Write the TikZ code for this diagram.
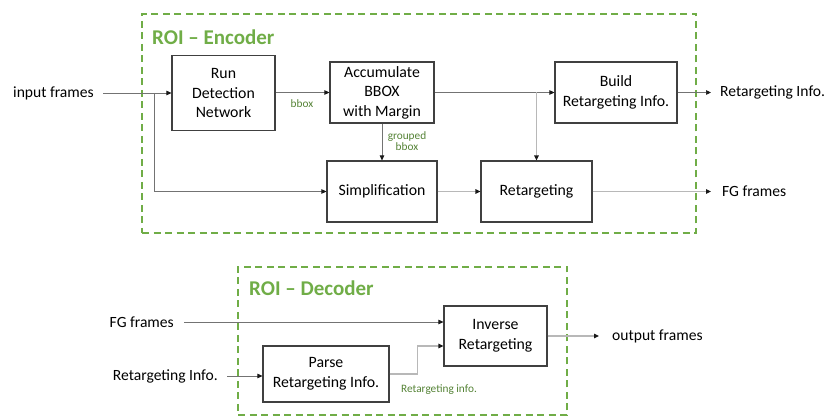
\documentclass[tikz,border=0pt]{standalone}
\usepackage{fontspec}
\setmainfont{Carlito}
\usetikzlibrary{arrows.meta}
\definecolor{grpgreen}{RGB}{112,173,71}
\definecolor{lblgreen}{RGB}{84,130,53}
\definecolor{boxline}{RGB}{64,64,64}
\tikzset{
  blk/.style={draw=boxline, line width=1.1pt, align=center, inner sep=0pt,
    font=\fontsize{15.8}{19.5}\selectfont},
  grp/.style={draw=grpgreen, line width=1.4pt, dash pattern=on 7pt off 4.5pt},
  ttl/.style={text=grpgreen, font=\fontsize{21}{24}\selectfont\bfseries, anchor=west, inner sep=0pt},
  txt/.style={font=\fontsize{15.6}{19.5}\selectfont, inner ysep=0pt},
  lbl/.style={text=lblgreen, font=\fontsize{11.3}{11.5}\selectfont, align=center, inner sep=0pt},
  dk/.style={draw=black!55, line width=0.7pt},
  lt/.style={draw=black!28, line width=1.2pt},
  tip/.style={-{Triangle[length=5pt,width=4.5pt,color=black!90]}},
}
\begin{document}
\begin{tikzpicture}[x=1pt,y=-1pt]
\useasboundingbox (0,0) rectangle (831,419);
% groups
\node[grp, minimum width=554, minimum height=219] (enc) at (419,123.5) {};
\node[grp, minimum width=329, minimum height=148] (dec) at (402.5,341) {};
\node[ttl] (enct) at (152,37) {ROI – Encoder};
\node[ttl] (dect) at (249,288) {ROI – Decoder};
% encoder blocks
\node[blk, minimum width=103, minimum height=75] (run) at (223.5,93) {Run\\Detection\\Network};
\node[blk, minimum width=104, minimum height=61] (acc) at (382,92.5) {Accumulate\\BBOX\\with Margin};
\node[blk, minimum width=122, minimum height=61] (bld) at (616,92.5) {Build\\Retargeting Info.};
\node[blk, minimum width=110, minimum height=61] (simp) at (382,191.5) {Simplification};
\node[blk, minimum width=111, minimum height=61] (ret) at (536.5,191.5) {Retargeting};
% encoder texts
\node[txt, inner xsep=9pt, anchor=east] (inp) at (103,93) {input frames};
\node[txt, inner xsep=9pt, anchor=west] (rio) at (711,92.5) {Retargeting Info.};
\node[txt, inner xsep=11pt, anchor=west] (fgo) at (711,191.5) {FG frames};
\node[lbl] (lbb) at (302,104) {bbox};
\node[lbl] (lgb) at (407,141) {grouped\\bbox};
% encoder connectors
\coordinate (b1) at (154,93);
\draw[dk, tip] (inp.east) -- (run.west);
\draw[dk, tip] (b1) |- (simp.west);
\draw[dk, tip] (run.east |- acc.west) -- (acc.west);
\draw[dk, tip] (acc.east) -- (bld.west);
\draw[lt, tip] (ret.north |- acc.east) -- (ret.north);
\draw[dk, tip] (acc.south) -- (simp.north);
\draw[lt, tip] (simp.east) -- (ret.west);
\draw[lt, tip] (ret.east) -- (fgo.west);
\draw[dk, tip] (bld.east) -- (rio.west);
% decoder blocks
\node[blk, minimum width=103, minimum height=60] (inv) at (495.5,336) {Inverse\\Retargeting};
\node[blk, minimum width=126, minimum height=56] (prs) at (326,374) {Parse\\Retargeting Info.};
% decoder texts
\node[txt, inner xsep=10pt, anchor=east] (fgi) at (184,322) {FG frames};
\node[txt, inner xsep=9pt, anchor=east] (rii) at (227,376) {Retargeting Info.};
\node[txt, inner xsep=13pt, anchor=west] (out) at (599,336) {output frames};
\node[lbl] (lri) at (439,390) {Retargeting info.};
% decoder connectors
\draw[dk, tip] (fgi.east) -- (fgi.east -| inv.west);
\draw[dk, tip] (rii.east) -- (rii.east -| prs.west);
\draw[lt, tip] (prs.east) -- ++(28,0) |- ([yshift=-10pt]inv.west);
\draw[lt, tip] (inv.east) -- (out.west);
\end{tikzpicture}
\end{document}
